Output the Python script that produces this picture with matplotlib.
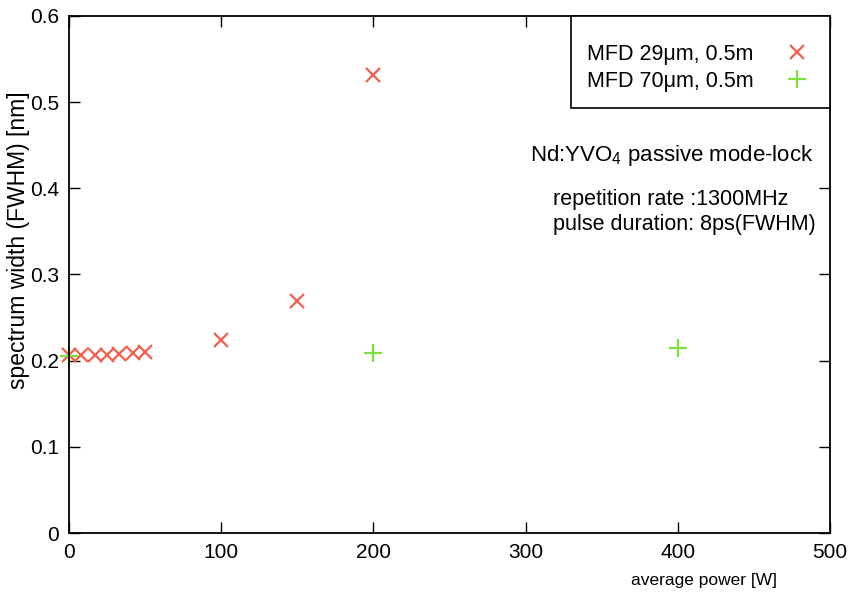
import numpy as np
import matplotlib
matplotlib.use('Agg')
from matplotlib import pyplot as plt

# spectrum width vs average power
power_29 = [0, 8, 17, 25, 33, 42, 50, 100, 150, 200]
width_29 = [0.206, 0.206, 0.207, 0.207, 0.208, 0.209, 0.210, 0.224, 0.269, 0.531]
power_70 = [0, 200, 400]
width_70 = [0.205, 0.209, 0.215]

labels = ['MFD 29\u03bcm, 0.5m', 'MFD 70\u03bcm, 0.5m']
x_ticks = [0, 100, 200, 300, 400, 500]
y_ticks = [0, 0.1, 0.2, 0.3, 0.4, 0.5, 0.6]
y_tick_labels = ['0', '0.1', '0.2', '0.3', '0.4', '0.5', '0.6']

plt.rcParams['font.family'] = ['Liberation Sans', 'DejaVu Sans']
plt.rcParams['mathtext.fontset'] = 'custom'
plt.rcParams['mathtext.rm'] = 'Liberation Sans'

fig = plt.figure(figsize=(8.53, 5.96), dpi=100, facecolor='white')
ax = fig.add_axes([0.081, 0.1057, 0.892, 0.8676])

ax.plot(power_29, width_29, linestyle='none', marker='x', markersize=10,
        markeredgewidth=1.6, color='#f2604a', label=labels[0], clip_on=False)
ax.plot(power_70, width_70, linestyle='none', marker='+', markersize=13,
        markeredgewidth=1.6, color='#7ee03c', label=labels[1], clip_on=False)

ax.set_xlim(0, 500)
ax.set_ylim(0, 0.6)
ax.set_xticks(x_ticks)
ax.set_yticks(y_ticks)
ax.set_yticklabels(y_tick_labels)
ax.tick_params(direction='in', length=8, width=1, top=True, right=True,
               labelsize=15, pad=7, colors='black')
for side in ax.spines.values():
    side.set_linewidth(1.3)

ax.set_xlabel('average power [W]', fontsize=12.5, x=0.834, labelpad=8)
ax.set_ylabel('spectrum width (FWHM) [nm]', fontsize=16.5, y=0.567, labelpad=0)

# empty tiny title pushes the rows down like the original key box
leg = ax.legend(loc='upper right', bbox_to_anchor=(1, 1), borderaxespad=0,
                fontsize=15.5, markerfirst=False, fancybox=False, edgecolor='black',
                framealpha=1, borderpad=0.75, labelspacing=0.3, handletextpad=1.2,
                handlelength=1.6, title=' ', title_fontsize=4)
leg.get_frame().set_linewidth(1.2)

ax.text(0.606, 0.731, 'Nd:YVO$_4$ passive mode-lock', transform=ax.transAxes,
        fontsize=16, va='center', ha='left')
ax.text(0.636, 0.644, 'repetition rate :1300MHz', transform=ax.transAxes,
        fontsize=15.5, va='center', ha='left')
ax.text(0.636, 0.596, 'pulse duration: 8ps(FWHM)', transform=ax.transAxes,
        fontsize=15.5, va='center', ha='left')

fig.savefig('out.png', dpi=100)
